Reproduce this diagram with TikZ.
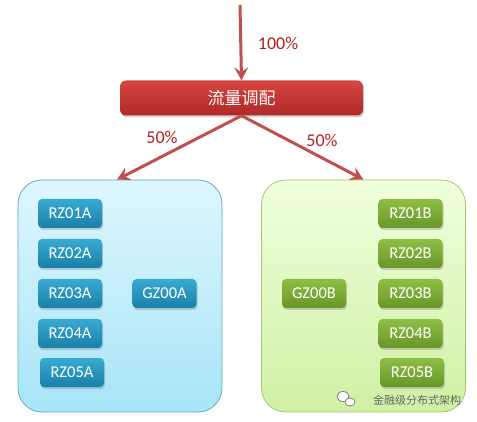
\documentclass[tikz,border=0pt]{standalone}
\usepackage{fontspec}
\setmainfont{Carlito}
\newfontfamily\cjk{Noto Sans CJK SC}
\usetikzlibrary{arrows.meta,shadows}
\definecolor{flowred}{RGB}{192,80,77}
\definecolor{pctred}{RGB}{180,30,30}
\definecolor{redtop}{RGB}{214,70,66}
\definecolor{redbot}{RGB}{176,40,40}
\definecolor{blueedge}{RGB}{100,172,200}
\definecolor{greenedge}{RGB}{164,198,108}
\definecolor{bluepooltop}{RGB}{222,247,254}
\definecolor{bluepoolbot}{RGB}{168,228,248}
\definecolor{greenpooltop}{RGB}{240,255,220}
\definecolor{greenpoolbot}{RGB}{208,240,164}
\definecolor{bluetop}{RGB}{56,170,210}
\definecolor{bluebot}{RGB}{26,128,168}
\definecolor{greentop}{RGB}{142,190,70}
\definecolor{greenbot}{RGB}{104,150,40}

\begin{document}
\begin{tikzpicture}[x=1pt,y=-1pt]
    \tikzset{%
      flow/.style={draw=flowred, line width=3pt,
        -{Stealth[length=13pt,width=14pt,inset=5pt]}},
      pct/.style={text=pctred, font=\fontsize{18}{20}\selectfont},
      dispatch/.style={rounded corners=6pt, top color=redtop,
        bottom color=redbot, draw=none, text=white,
        minimum width=243pt, minimum height=35pt, inner sep=0pt,
        drop shadow={shadow xshift=1pt, shadow yshift=-2pt, opacity=0.35},
        font=\cjk\fontsize{17}{19}\selectfont},
      pool/.style={rounded corners=24pt, line width=0.8pt,
        minimum width=204pt, minimum height=232pt, inner sep=0pt},
      bluepool/.style={pool, draw=blueedge, top color=bluepooltop, bottom color=bluepoolbot},
      greenpool/.style={pool, draw=greenedge, top color=greenpooltop, bottom color=greenpoolbot},
      srv/.style={rounded corners=4pt, text=white, inner sep=0pt,
        minimum width=64pt, minimum height=29pt,
        drop shadow={shadow xshift=1pt, shadow yshift=-2pt, opacity=0.35},
        font=\fontsize{16.5}{18}\selectfont},
      bluesrv/.style={srv, top color=bluetop, bottom color=bluebot},
      greensrv/.style={srv, top color=greentop, bottom color=greenbot},
    }
    \useasboundingbox (0,0) rectangle (477,422);

    % dispatcher
    \coordinate (In) at (240,5);
    \node[dispatch] (D) at (241.5,98) {流量调配};
    \draw[flow] (In) -- (D.north);
    \node[pct] (P0) at (278,43) {100\%};

    % the two pools
    \node[bluepool] (L) at (120,296) {};
    \node[greenpool] (R) at (363.5,296) {};
    \draw[flow] (D.south) -- ([xshift=-3pt]L.north);
    \draw[flow] (D.south) -- (R.north);
    \node[pct] (PL) at (162,137) {50\%};
    \node[pct] (PR) at (322,140) {50\%};

    % pool A
    \node[bluesrv] (RZ01A) at (70,213.5) {RZ01A};
    \node[bluesrv] (RZ02A) at (70,253.5) {RZ02A};
    \node[bluesrv] (RZ03A) at (70,293.5) {RZ03A};
    \node[bluesrv] (RZ04A) at (70,333.5) {RZ04A};
    \node[bluesrv] (RZ05A) at (72,372.5) {RZ05A};
    \node[bluesrv] (GZ00A) at (164.5,293.5) {GZ00A};

    % pool B
    \node[greensrv] (RZ01B) at (410.5,213.5) {RZ01B};
    \node[greensrv] (RZ02B) at (410.5,253.5) {RZ02B};
    \node[greensrv] (RZ03B) at (410.5,293.5) {RZ03B};
    \node[greensrv] (RZ04B) at (410.5,333.5) {RZ04B};
    \node[greensrv] (RZ05B) at (412,372.5) {RZ05B};
    \node[greensrv] (GZ00B) at (314,293.5) {GZ00B};

    % watermark
    \draw[gray, fill=white, line width=0.8pt] (343,396.5) ellipse (6pt and 5pt);
    \draw[gray, fill=white, line width=0.8pt] (350,402) ellipse (5pt and 4pt);
    \node[text=gray!80!black, font=\cjk\fontsize{11}{12}\selectfont] (W) at (417,400) {金融级分布式架构};
\end{tikzpicture}
\end{document}
